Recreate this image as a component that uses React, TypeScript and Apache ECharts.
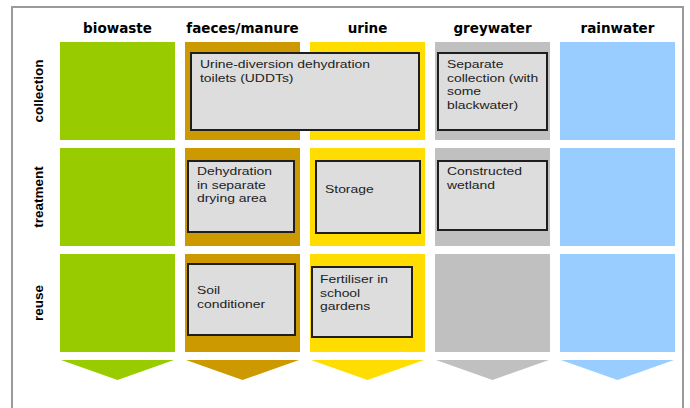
import React, { useEffect, useRef } from 'react';
import * as echarts from 'echarts';

// ---- data ----
const streams = ['biowaste', 'faeces/manure', 'urine', 'greywater', 'rainwater'];
const stages = ['collection', 'treatment', 'reuse'];
const streamColors = ['#99cc00', '#cc9900', '#ffdd00', '#c0c0c0', '#99ccff'];

const techFrom = ['faeces/manure', 'greywater', 'faeces/manure', 'urine', 'greywater', 'faeces/manure', 'urine'];
const techTo = ['urine', 'greywater', 'faeces/manure', 'urine', 'greywater', 'faeces/manure', 'urine'];
const techStage = ['collection', 'collection', 'treatment', 'treatment', 'treatment', 'reuse', 'reuse'];
const techLabels = [
  'Urine-diversion dehydration\ntoilets (UDDTs)',
  'Separate\ncollection (with\nsome\nblackwater)',
  'Dehydration\nin separate\ndrying area',
  'Storage',
  'Constructed\nwetland',
  'Soil\nconditioner',
  'Fertiliser in\nschool\ngardens',
];

// ---- layout (pixel insets: left, top, right, bottom, text offset, text x) ----
const techInsets = [
  [6, 11, 6, 10, 11, 9],
  [3, 11, 3, 10, 11, 9],
  [3, 13, 6, 14, 10, 9],
  [6, 13, 5, 13, 28, 9],
  [3, 13, 3, 16, 10, 9],
  [3, 10, 5, 17, 26, 9],
  [2, 13, 13, 15, 12, 8],
];

const cellData: number[][] = [];
streams.forEach((_, i) => stages.forEach((__, j) => cellData.push([i, j])));
const chevronData = streams.map((_, i) => [i, stages.length - 1]);
const techData = techLabels.map((_, k) => [
  streams.indexOf(techFrom[k]),
  streams.indexOf(techTo[k]),
  stages.indexOf(techStage[k]),
  k,
]);

const GAP_X = 10;
const GAP_Y = 8;

export default function App() {
  const ref = useRef<HTMLDivElement>(null);
  useEffect(() => {
    if (!ref.current) return;
    const chart = echarts.init(ref.current, null, { renderer: 'svg' });
    chart.setOption({
      animation: false,
      backgroundColor: '#ffffff',
      graphic: [
        {
          type: 'rect',
          z: -10,
          shape: { x: 12, y: 7, width: 671, height: 420 },
          style: { fill: 'none', stroke: '#9a9a9a', lineWidth: 2 },
        },
      ],
      grid: { left: 55, right: 10, top: 38, bottom: 52, containLabel: false },
      xAxis: {
        type: 'category',
        position: 'top',
        data: streams,
        axisLine: { show: false },
        axisTick: { show: false },
        splitLine: { show: false },
        axisLabel: {
          interval: 0,
          hideOverlap: false,
          margin: 3,
          color: '#000',
          fontWeight: 'bold',
          fontSize: 13.5,
          fontFamily: '"DejaVu Sans", sans-serif',
        },
      },
      yAxis: {
        type: 'category',
        inverse: true,
        data: stages,
        axisLine: { show: false },
        axisTick: { show: false },
        splitLine: { show: false },
        axisLabel: {
          interval: 0,
          rotate: 90,
          margin: 10,
          color: '#000',
          fontWeight: 'bold',
          fontSize: 13.5,
          fontFamily: '"Liberation Sans", Arial, sans-serif',
        },
      },
      series: [
        {
          type: 'custom',
          name: 'cells',
          data: cellData,
          encode: { x: 0, y: 1 },
          renderItem: (_p: any, api: any) => {
            const c = api.coord([api.value(0), api.value(1)]);
            const s = api.size([1, 1]);
            const w = s[0] - GAP_X;
            const h = s[1] - GAP_Y;
            return {
              type: 'rect',
              shape: { x: c[0] - w / 2, y: c[1] - h / 2, width: w, height: h },
              style: { fill: streamColors[api.value(0)] },
            };
          },
        },
        {
          type: 'custom',
          name: 'chevrons',
          data: chevronData,
          encode: { x: 0, y: 1 },
          clip: false,
          renderItem: (_p: any, api: any) => {
            const c = api.coord([api.value(0), api.value(1)]);
            const s = api.size([1, 1]);
            const w = s[0] - GAP_X - 2;
            const h = s[1] - GAP_Y;
            const top = c[1] + h / 2 + 8;
            return {
              type: 'polygon',
              shape: {
                points: [
                  [c[0] - w / 2, top],
                  [c[0] + w / 2, top],
                  [c[0], top + 20],
                ],
              },
              style: { fill: streamColors[api.value(0)] },
            };
          },
        },
        {
          type: 'custom',
          name: 'technologies',
          data: techData,
          encode: { x: [0, 1], y: 2 },
          renderItem: (_p: any, api: any) => {
            const k = api.value(3);
            const a = api.coord([api.value(0), api.value(2)]);
            const b = api.coord([api.value(1), api.value(2)]);
            const s = api.size([1, 1]);
            const w = s[0] - GAP_X;
            const h = s[1] - GAP_Y;
            const left = a[0] - w / 2;
            const right = b[0] + w / 2;
            const top = a[1] - h / 2;
            const bottom = a[1] + h / 2;
            const ins = techInsets[k];
            const bx = left + ins[0];
            const by = top + ins[1];
            const bw = right - ins[2] - bx;
            const bh = bottom - ins[3] - by;
            return {
              type: 'group',
              children: [
                {
                  type: 'rect',
                  shape: { x: bx, y: by, width: bw, height: bh },
                  style: { fill: '#dddddd', stroke: '#1e1e1e', lineWidth: 2 },
                },
                {
                  type: 'text',
                  x: bx + ins[5],
                  y: by + ins[4] - 6.75,
                  scaleX: 1.2,
                  style: {
                    text: techLabels[k],
                    fontSize: 11.6,
                    fontFamily: '"Liberation Sans", Arial, sans-serif',
                    fill: '#222',
                    lineHeight: 13.5,
                    align: 'left',
                    verticalAlign: 'top',
                  },
                },
              ],
            };
          },
        },
      ],
    });
    return () => chart.dispose();
  }, []);
  return (
    <div
      ref={ref}
      style={{ position: 'fixed', left: 0, top: 0, width: 690, height: 408 }}
    />
  );
}
